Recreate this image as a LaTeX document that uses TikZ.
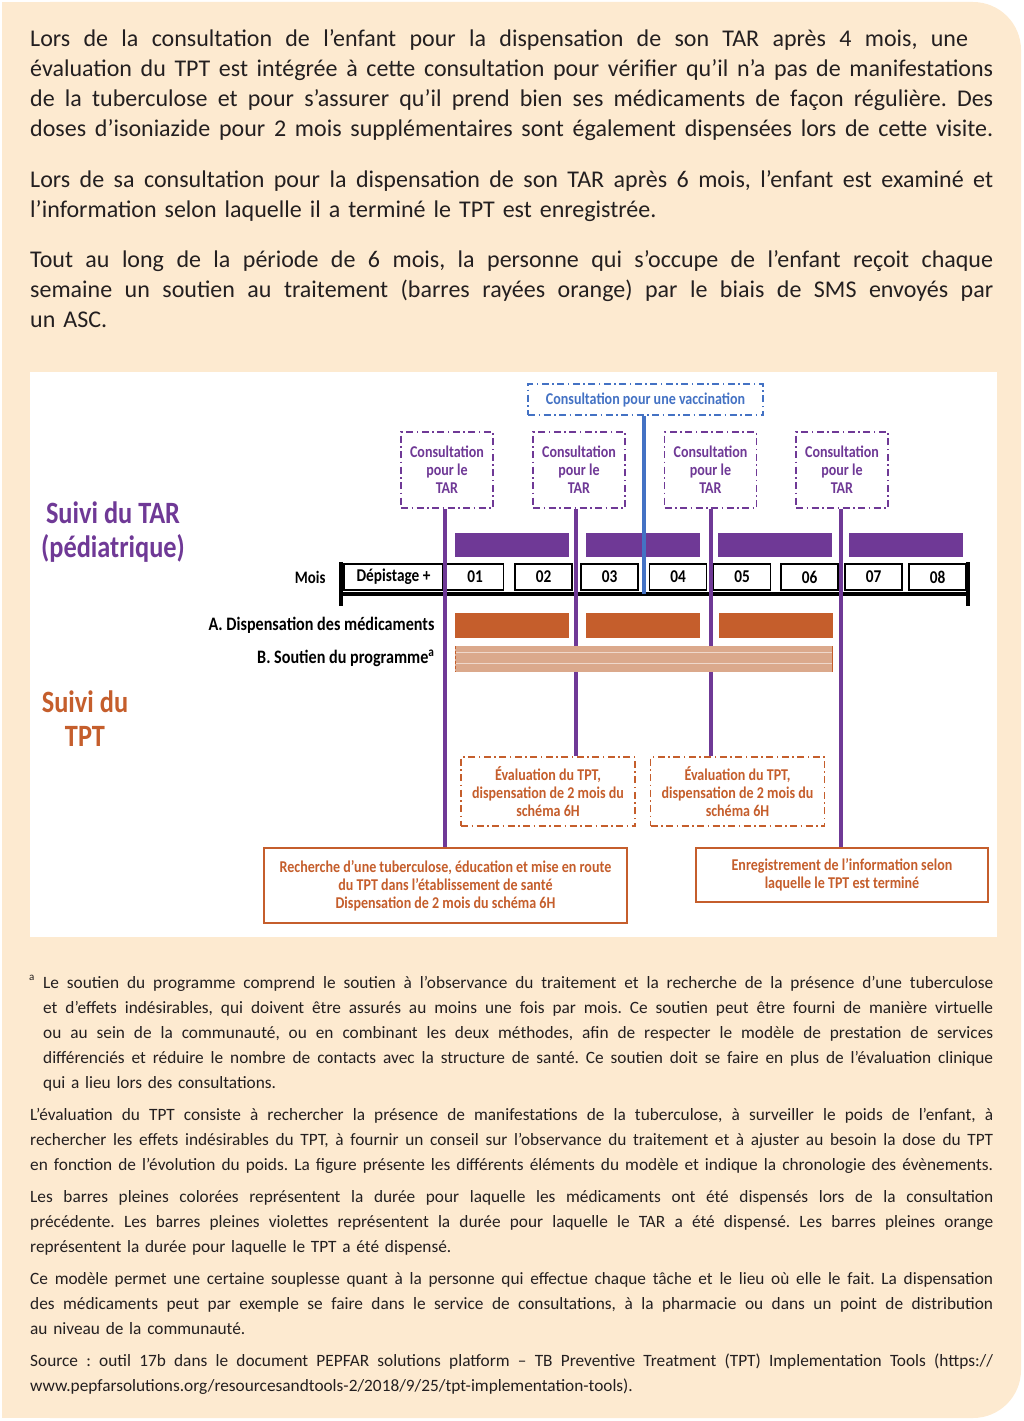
\documentclass[tikz,border=0pt]{standalone}
\usepackage{fontspec}
\setmainfont{Carlito}
\newfontfamily\condfont[FakeStretch=0.85]{Carlito}
\frenchspacing

\definecolor{peach}{RGB}{253,234,208}
\definecolor{tarpurple}{RGB}{111,57,150}
\definecolor{tptorange}{RGB}{197,94,44}
\definecolor{soutien}{RGB}{219,169,140}
\definecolor{vaccblue}{RGB}{68,114,196}
\definecolor{textgray}{RGB}{35,31,32}

\newcommand{\jl}[2][963pt]{\hbox to #1{\spaceskip=0.22em plus 1em minus 0.06em\relax #2}}

\begin{document}
\begin{tikzpicture}[x=1pt, y=-1pt,
    body/.style={anchor=base west, inner sep=0pt, text=textgray},
    bigtxt/.style={body, text width=963, font=\fontsize{24}{30}\selectfont},
    smalltxt/.style={body, font=\fontsize{17.3}{25}\selectfont},
    lbl/.style={font=\condfont\bfseries\fontsize{19}{21}\selectfont},
    consbox/.style={draw=tarpurple, line width=1.5pt, dash pattern=on 7pt off 3.5pt on 1.5pt off 3.5pt,
        text=tarpurple, align=center, inner sep=0pt, minimum width=92, minimum height=76,
        font=\condfont\bfseries\fontsize{16.5}{18}\selectfont},
    vaccbox/.style={consbox, draw=vaccblue, text=vaccblue, minimum width=235, minimum height=31},
    evalbox/.style={consbox, draw=tptorange, text=tptorange, minimum width=174, minimum height=69},
    tptbox/.style={draw=tptorange, line width=1.5pt, text=tptorange, align=center, inner sep=0pt,
        font=\condfont\bfseries\fontsize{16.5}{18}\selectfont},
    monthbox/.style={draw=black, line width=1.8pt, inner sep=0pt, minimum width=57, minimum height=26,
        font=\condfont\bfseries\fontsize{18}{19}\selectfont},
    tarline/.style={draw=tarpurple, line width=4pt},
    title/.style={align=center, font=\condfont\bfseries\fontsize{31}{34}\selectfont}]

    \useasboundingbox (0,0) rectangle (1024,1421);
    \fill[peach, rounded corners=48] (2,2) rectangle (1021,1418);
    \fill[peach] (2,2) rectangle (500,1418);

    \node[bigtxt] (intro1) at (30,47) {%
        \jl[938pt]{Lors de la consultation de l’enfant pour la dispensation de son TAR après 4 mois, une}
        \jl{évaluation du TPT est intégrée à cette consultation pour vérifier qu’il n’a pas de manifestations}
        \jl{de la tuberculose et pour s’assurer qu’il prend bien ses médicaments de façon régulière. Des}
        \jl{doses d’isoniazide pour 2 mois supplémentaires sont également dispensées lors de cette visite.}};
    \node[bigtxt] (intro2) at (30,187) {%
        \jl{Lors de sa consultation pour la dispensation de son TAR après 6 mois, l’enfant est examiné et}
        l’information selon laquelle il a terminé le TPT est enregistrée.};
    \node[bigtxt] (intro3) at (30,267) {%
        \jl{Tout au long de la période de 6 mois, la personne qui s’occupe de l’enfant reçoit chaque}
        \jl{semaine un soutien au traitement (barres rayées orange) par le biais de SMS envoyés par}
        un ASC.};

    \fill[white] (30,372) rectangle (997,937);

    \node[title, text=tarpurple] (suivitar) at (113,532) {Suivi du TAR\\(pédiatrique)};
    \node[title, text=tptorange] (suivitpt) at (85,719) {Suivi du\\TPT};

    \node[vaccbox] (vacc) at (645.5,399.5) {Consultation pour une vaccination};
    \foreach \i/\xc in {1/447, 2/579, 3/710.5, 4/842}
        \node[consbox] (cons\i) at (\xc,470) {Consultation\\pour le\\TAR};

    \foreach \a/\b in {455/569, 586/700, 718/832, 849/963}
        \fill[tarpurple] (\a,533) rectangle (\b,557);

    \coordinate (axL) at (341,594);
    \coordinate (axR) at (968,594);
    \draw[line width=4pt] (axL) -- (axR);
    \draw[line width=4pt] (341,562) -- (341,606);
    \draw[line width=4pt] (968,562) -- (968,606);

    \node[lbl, anchor=east, font=\condfont\bfseries\fontsize{17.5}{19}\selectfont] (mois) at (329,577) {Mois};
    \node[monthbox, minimum width=99] (dep) at (393.5,577) {Dépistage +};
    \foreach \m/\xc in {01/475, 02/543.5, 03/609.5, 04/678, 05/742, 06/809.5, 07/873.5, 08/937.5}
        \node[monthbox] (m\m) at (\xc,577) {\m};

    \node[lbl, anchor=east] (labA) at (438,625) {A. Dispensation des médicaments};
    \node[lbl, anchor=east] (labB) at (438,658) {B. Soutien du programme\textsuperscript{a}};
    \foreach \a/\b in {455/569, 586/700, 719/833}
        \fill[tptorange] (\a,613) rectangle (\b,638);

    \node[evalbox] (eval1) at (548,791.5) {Évaluation du TPT,\\dispensation de 2 mois du\\schéma 6H};
    \node[evalbox] (eval2) at (737.5,791.5) {Évaluation du TPT,\\dispensation de 2 mois du\\schéma 6H};
    \node[tptbox, minimum width=363, minimum height=75] (recherche) at (445.5,885.5)
        {Recherche d’une tuberculose, éducation et mise en route\\du TPT dans l’établissement de santé\\Dispensation de 2 mois du schéma 6H};
    \node[tptbox, minimum width=292, minimum height=54] (enreg) at (842,875)
        {Enregistrement de l’information selon\\laquelle le TPT est terminé};

    \draw[tarline] ([xshift=-2]cons1.south) -- ([xshift=-2]cons1.south |- recherche.north);
    \draw[tarline] ([xshift=-3]cons2.south) -- ([xshift=-3]cons2.south |- eval1.north);
    \draw[tarline] (cons3.south) -- (cons3.south |- eval2.north);
    \draw[tarline] ([xshift=-1]cons4.south) -- ([xshift=-1]cons4.south |- enreg.north);
    \draw[vaccblue, line width=4pt] ([xshift=-2]vacc.south) -- ([xshift=-2]vacc.south |- axL);

    \fill[soutien] (455,646) rectangle (833,672);
    \draw[white!55!soutien, line width=0.8pt] (455,652) -- (833,652) (455,663) -- (833,663);
    \draw[tptorange, densely dashed, line width=0.6pt] (455.5,646) -- (455.5,672);
    \draw[tptorange, line width=0.8pt] (832.5,646) -- (832.5,672);

    \node[body, font=\fontsize{11}{11}\selectfont] (fnmark) at (29,980) {a};
    \node[smalltxt, text width=950] (note1) at (43,988) {%
        \jl[950pt]{Le soutien du programme comprend le soutien à l’observance du traitement et la recherche de la présence d’une tuberculose}
        \jl[950pt]{et d’effets indésirables, qui doivent être assurés au moins une fois par mois. Ce soutien peut être fourni de manière virtuelle}
        \jl[950pt]{ou au sein de la communauté, ou en combinant les deux méthodes, afin de respecter le modèle de prestation de services}
        \jl[950pt]{différenciés et réduire le nombre de contacts avec la structure de santé. Ce soutien doit se faire en plus de l’évaluation clinique}
        qui a lieu lors des consultations.};
    \node[smalltxt, text width=963] (note2) at (30,1120) {%
        \jl{L’évaluation du TPT consiste à rechercher la présence de manifestations de la tuberculose, à surveiller le poids de l’enfant, à}
        \jl{rechercher les effets indésirables du TPT, à fournir un conseil sur l’observance du traitement et à ajuster au besoin la dose du TPT}
        \jl{en fonction de l’évolution du poids. La figure présente les différents éléments du modèle et indique la chronologie des évènements.}};
    \node[smalltxt, text width=963] (note3) at (30,1202) {%
        \jl{Les barres pleines colorées représentent la durée pour laquelle les médicaments ont été dispensés lors de la consultation}
        \jl{précédente. Les barres pleines violettes représentent la durée pour laquelle le TAR a été dispensé. Les barres pleines orange}
        représentent la durée pour laquelle le TPT a été dispensé.};
    \node[smalltxt, text width=963] (note4) at (30,1284) {%
        \jl{Ce modèle permet une certaine souplesse quant à la personne qui effectue chaque tâche et le lieu où elle le fait. La dispensation}
        \jl{des médicaments peut par exemple se faire dans le service de consultations, à la pharmacie ou dans un point de distribution}
        au niveau de la communauté.};
    \node[smalltxt, text width=963] (note5) at (30,1366) {%
        \jl{Source : outil 17b dans le document PEPFAR solutions platform – TB Preventive Treatment (TPT) Implementation Tools (https://}
        www.pepfarsolutions.org/resourcesandtools-2/2018/9/25/tpt-implementation-tools).};
\end{tikzpicture}
\end{document}
